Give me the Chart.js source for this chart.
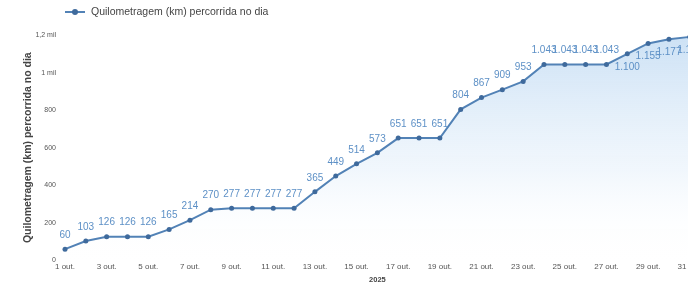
<!DOCTYPE html>
<html>
<head>
<meta charset="utf-8">
<script src="https://cdn.jsdelivr.net/npm/chart.js@4.4.1/dist/chart.umd.min.js"></script>
<style>
  html, body { margin: 0; padding: 0; background: #fff; overflow: hidden; }
  #wrap { width: 704px; height: 284px; position: relative; }
</style>
</head>
<body>
<div id="wrap"><canvas id="chart"></canvas></div>
<script>
// Daily accumulated km, 1..31 out. 2025
const days = [1,2,3,4,5,6,7,8,9,10,11,12,13,14,15,16,17,18,19,20,21,22,23,24,25,26,27,28,29,30,31];
const dayLabels = days.map(d => d + ' out.');
const kmValues = [60,103,126,126,126,165,214,270,277,277,277,277,365,449,514,573,651,651,651,804,867,909,953,1043,1043,1043,1043,1100,1155,1177,1190];
const yTicks = [0, 200, 400, 600, 800, 1000, 1200];
const seriesName = 'Quilometragem (km) percorrida no dia';

const LINE = '#5282b6';
const POINT = '#3f6a9c';
const LABEL = '#5d90c6';
const FONT = "'Liberation Sans', Arial, sans-serif";

function fmtBR(v) {
  return String(v).replace(/\B(?=(\d{3})+(?!\d))/g, '.');
}

function fmtTick(v) {
  if (v >= 1000) return (v / 1000).toString().replace('.', ',') + ' mil';
  return String(v);
}

// legend drawn by hand so it can sit over the plot area
const topLegend = {
  id: 'topLegend',
  afterDraw(chart) {
    const ctx = chart.ctx;
    const x = 65, y = 12;
    ctx.save();
    ctx.strokeStyle = LINE; ctx.lineWidth = 2;
    ctx.beginPath(); ctx.moveTo(x, y); ctx.lineTo(x + 20, y); ctx.stroke();
    ctx.fillStyle = POINT;
    ctx.beginPath(); ctx.arc(x + 10, y, 3, 0, Math.PI * 2); ctx.fill();
    ctx.fillStyle = '#444';
    ctx.font = '10.5px ' + FONT;
    ctx.textBaseline = 'middle';
    ctx.fillText(seriesName, x + 26, y);
    ctx.restore();
  }
};

// simple value labels above/below each point
const valueLabels = {
  id: 'valueLabels',
  afterDatasetsDraw(chart) {
    const ctx = chart.ctx;
    const meta = chart.getDatasetMeta(0);
    ctx.save();
    ctx.font = '10px ' + FONT;
    ctx.fillStyle = LABEL;
    ctx.textAlign = 'center';
    meta.data.forEach((pt, i) => {
      const below = i >= 27;
      ctx.textBaseline = below ? 'top' : 'bottom';
      ctx.fillText(fmtBR(kmValues[i]), pt.x, below ? pt.y + 8 : pt.y - 9);
    });
    ctx.restore();
  }
};

const ctx = document.getElementById('chart').getContext('2d');

new Chart(ctx, {
  type: 'line',
  data: {
    labels: dayLabels,
    datasets: [{
      label: seriesName,
      data: kmValues,
      borderColor: LINE,
      borderWidth: 2,
      pointRadius: 2.5,
      pointBackgroundColor: POINT,
      pointBorderColor: POINT,
      pointBorderWidth: 0,
      tension: 0,
      fill: 'origin',
      backgroundColor(context) {
        const { chartArea } = context.chart;
        if (!chartArea) return 'rgba(200,220,240,0.3)';
        const g = context.chart.ctx.createLinearGradient(0, chartArea.top, 0, chartArea.bottom);
        g.addColorStop(0, 'rgba(170,205,238,0.6)');
        g.addColorStop(0.6, 'rgba(215,232,248,0.35)');
        g.addColorStop(1, 'rgba(255,255,255,0)');
        return g;
      },
      clip: false,
    }],
  },
  options: {
    responsive: true,
    maintainAspectRatio: false,
    animation: false,
    layout: { padding: { left: 20, right: 0, top: 35, bottom: 0 } },
    plugins: {
      legend: { display: false },
      tooltip: { enabled: false },
    },
    scales: {
      x: {
        grid: { display: false, drawTicks: false },
        border: { display: false },
        ticks: {
          autoSkip: false,
          maxRotation: 0,
          padding: 2,
          color: '#555',
          font: { family: FONT, size: 8 },
          callback(val, i) { return i % 2 === 0 ? dayLabels[i] : ''; },
        },
        title: {
          display: true,
          text: '2025',
          color: '#444',
          font: { family: FONT, size: 7.5, weight: 'bold' },
          padding: { top: 1, bottom: 0 },
        },
      },
      y: {
        min: 0,
        max: 1200,
        grid: { display: false, drawTicks: false },
        border: { display: false },
        afterBuildTicks(axis) { axis.ticks = yTicks.map(v => ({ value: v })); },
        afterFit(axis) { axis.width = 45; },
        ticks: {
          color: '#555',
          padding: 9,
          font: { family: FONT, size: 7 },
          callback(v) { return fmtTick(v); },
        },
        title: {
          display: true,
          text: seriesName,
          color: '#444',
          padding: 2,
          font: { family: FONT, size: 10.5, weight: 'bold' },
        },
      },
    },
  },
  plugins: [valueLabels, topLegend],
});
</script>
</body>
</html>
